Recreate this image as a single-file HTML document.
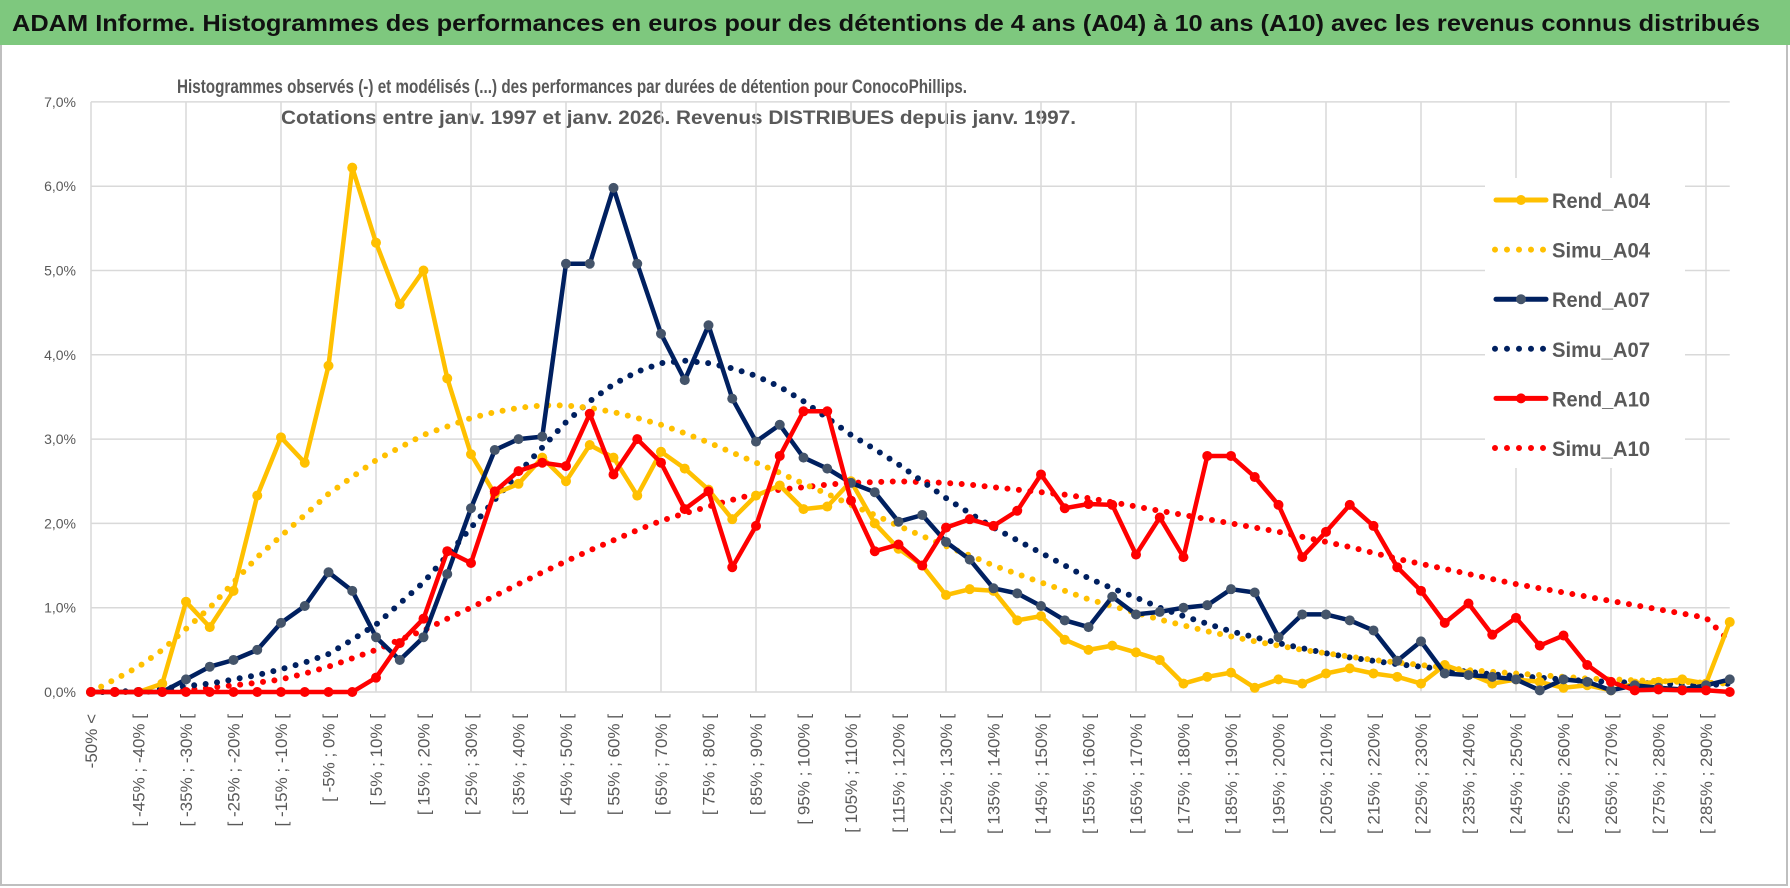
<!DOCTYPE html>
<html><head><meta charset="utf-8"><style>
html,body{margin:0;padding:0;background:#fff;}
svg{display:block;font-family:"Liberation Sans",sans-serif;}
</style></head><body>
<svg id="chart" width="1790" height="888" viewBox="0 0 1790 888">
<rect x="1" y="1" width="1786" height="884" fill="#fff" stroke="#bfbfbf" stroke-width="2"/>
<rect x="0" y="0" width="1790" height="45" fill="#7ec87e"/>
<text x="12" y="31" font-size="23" font-weight="bold" fill="#111" textLength="1748" lengthAdjust="spacingAndGlyphs">ADAM Informe. Histogrammes des performances en euros pour des détentions de 4 ans (A04) à 10 ans (A10) avec les revenus connus distribués</text>
<text x="177" y="93" font-size="19" font-weight="bold" fill="#595959" textLength="790" lengthAdjust="spacingAndGlyphs">Histogrammes observés (-) et modélisés (...) des performances par durées de détention pour ConocoPhillips.</text>
<text x="281" y="124" font-size="19" font-weight="bold" fill="#595959" textLength="795" lengthAdjust="spacingAndGlyphs">Cotations entre janv. 1997 et janv. 2026. Revenus DISTRIBUES depuis janv. 1997.</text>
<g id="grid"></g>
<g id="ylabels"></g>
<g id="xlabels"></g>
<g id="series"></g>
<g id="legend"></g>
</svg>
<script>
const categories = (function(){const a=["-50% <"];for(let i=1;i<70;i++){const lo=-55+5*i;a.push("[ "+lo+"% ; "+(lo+5)+"% [");}return a;})();
const yTicks = ["0,0%","1,0%","2,0%","3,0%","4,0%","5,0%","6,0%","7,0%"];
const rendA04 = [0,0,0,0.1,1.07,0.77,1.2,2.33,3.02,2.72,3.87,6.22,5.33,4.6,5.0,3.72,2.82,2.35,2.47,2.78,2.5,2.93,2.78,2.33,2.85,2.65,2.4,2.05,2.33,2.45,2.17,2.2,2.5,2.0,1.7,1.5,1.15,1.22,1.2,0.85,0.9,0.62,0.5,0.55,0.47,0.38,0.1,0.18,0.23,0.05,0.15,0.1,0.22,0.28,0.22,0.18,0.1,0.32,0.22,0.1,0.15,0.12,0.05,0.08,0.02,0.1,0.12,0.15,0.1,0.83];
const simuA04 = [0,0.15,0.3,0.5,0.75,1.0,1.3,1.6,1.85,2.1,2.35,2.55,2.75,2.9,3.05,3.15,3.25,3.32,3.37,3.4,3.4,3.37,3.32,3.25,3.17,3.07,2.96,2.84,2.72,2.6,2.47,2.35,2.22,2.1,1.97,1.85,1.73,1.62,1.5,1.4,1.3,1.2,1.1,1.02,0.94,0.86,0.79,0.72,0.66,0.6,0.55,0.5,0.46,0.42,0.38,0.35,0.32,0.29,0.26,0.24,0.22,0.2,0.18,0.16,0.15,0.14,0.13,0.12,0.11,0.1];
const rendA07 = [0,0,0,0,0.15,0.3,0.38,0.5,0.82,1.02,1.42,1.2,0.65,0.38,0.65,1.4,2.18,2.87,3.0,3.03,5.08,5.08,5.98,5.08,4.25,3.7,4.35,3.48,2.97,3.17,2.78,2.65,2.48,2.37,2.02,2.1,1.78,1.57,1.23,1.17,1.02,0.85,0.77,1.13,0.92,0.95,1.0,1.03,1.22,1.18,0.65,0.92,0.92,0.85,0.73,0.37,0.6,0.22,0.2,0.18,0.15,0.02,0.15,0.12,0.02,0.08,0.05,0.03,0.08,0.15];
const simuA07 = [0,0,0.02,0.04,0.07,0.1,0.15,0.2,0.27,0.35,0.45,0.62,0.8,1.05,1.3,1.62,1.95,2.28,2.6,2.9,3.2,3.45,3.65,3.8,3.9,3.93,3.9,3.84,3.75,3.62,3.45,3.25,3.05,2.88,2.7,2.5,2.3,2.12,1.95,1.8,1.65,1.5,1.35,1.23,1.12,1.0,0.9,0.81,0.72,0.65,0.58,0.52,0.46,0.41,0.37,0.33,0.3,0.27,0.24,0.21,0.19,0.17,0.15,0.13,0.12,0.11,0.1,0.09,0.08,0.1];
const rendA10 = [0,0,0,0,0,0,0,0,0,0,0,0,0.17,0.58,0.87,1.67,1.53,2.38,2.62,2.72,2.68,3.3,2.58,3.0,2.72,2.17,2.38,1.48,1.97,2.8,3.33,3.33,2.27,1.67,1.75,1.5,1.95,2.05,1.97,2.15,2.58,2.18,2.23,2.22,1.63,2.07,1.6,2.8,2.8,2.55,2.22,1.6,1.9,2.22,1.97,1.48,1.2,0.82,1.05,0.68,0.88,0.55,0.67,0.32,0.12,0.02,0.03,0.02,0.02,0];
const simuA10 = [0,0,0,0.01,0.02,0.05,0.08,0.11,0.15,0.22,0.3,0.4,0.5,0.62,0.73,0.87,1.0,1.14,1.28,1.42,1.55,1.68,1.8,1.92,2.03,2.12,2.2,2.28,2.35,2.4,2.43,2.46,2.48,2.49,2.5,2.49,2.48,2.46,2.43,2.4,2.37,2.34,2.3,2.25,2.2,2.15,2.1,2.05,2.0,1.95,1.9,1.84,1.78,1.72,1.65,1.58,1.52,1.46,1.4,1.34,1.28,1.23,1.18,1.13,1.08,1.03,0.98,0.93,0.88,0.6];

const NS="http://www.w3.org/2000/svg";
const X0=91, DX=23.75, Y0=692, PY=84.3;
const xs=i=>X0+DX*i, ys=v=>Y0-PY*v;
function mk(tag,attrs,parent){const e=document.createElementNS(NS,tag);for(const k in attrs)e.setAttribute(k,attrs[k]);parent.appendChild(e);return e;}
const grid=document.getElementById('grid');
for(let i=0;i<categories.length;i+=4){
  const l=mk('line',{x1:xs(i),x2:xs(i),y1:ys(7),y2:Y0,stroke:'#d9d9d9','stroke-width':1.5},grid);
  
  
}
const yl=document.getElementById('ylabels');
yTicks.forEach((t,k)=>{
  const l=mk('line',{x1:X0,x2:xs(categories.length-1),y1:ys(k),y2:ys(k),stroke:'#d9d9d9','stroke-width':1.5},grid);
  
  
  const tx=mk('text',{x:76,y:ys(k)+5,'font-size':14,fill:'#595959','text-anchor':'end'},yl);
  tx.textContent=t;
  
  
});
const xl=document.getElementById('xlabels');
for(let i=0;i<categories.length;i+=2){
  const x=xs(i)+6, y=714;
  const tx=mk('text',{x:x,y:y,'font-size':17,fill:'#595959','text-anchor':'end',transform:`rotate(-90 ${x} ${y})`},xl);
  tx.textContent=categories[i];
  
  
}
const ser=document.getElementById('series');
function pts(a){return a.map((v,i)=>xs(i).toFixed(1)+','+ys(v).toFixed(1)).join(' ');}
function dotted(a,color,name){
  const p=mk('polyline',{points:pts(a),fill:'none',stroke:color,'stroke-width':6,'stroke-linecap':'round','stroke-dasharray':'0 11.5'},ser);
  
  
}
function solid(a,color,mcolor,name){
  const g=mk('g',{},ser);
  
  
  mk('polyline',{points:pts(a),fill:'none',stroke:color,'stroke-width':4.5,'stroke-linejoin':'round'},g);
  a.forEach((v,i)=>{
    const c=mk('circle',{cx:xs(i),cy:ys(v),r:5,fill:mcolor},g);
    
    
  });
}
dotted(simuA10,'#ff0000','simu-a10-line');
dotted(simuA07,'#002060','simu-a07-line');
dotted(simuA04,'#ffc000','simu-a04-line');
solid(rendA04,'#ffc000','#ffc000','rend-a04-line');
solid(rendA07,'#002060','#44546a','rend-a07-line');
solid(rendA10,'#ff0000','#ff0000','rend-a10-line');
// legend
const lg=document.getElementById('legend');
mk('rect',{x:1485,y:178,width:200,height:290,fill:'#fff'},lg);
const items=[["Rend_A04","#ffc000",false,"#ffc000"],["Simu_A04","#ffc000",true],["Rend_A07","#002060",false,"#44546a"],["Simu_A07","#002060",true],["Rend_A10","#ff0000",false,"#ff0000"],["Simu_A10","#ff0000",true]];
items.forEach((it,k)=>{
  const y=200+49.6*k;
  const g=mk('g',{},lg);
  
  
  if(it[2]){
    mk('line',{x1:1495,x2:1545,y1:y,y2:y,stroke:it[1],'stroke-width':6,'stroke-linecap':'round','stroke-dasharray':'0 12'},g);
  }else{
    mk('line',{x1:1496,x2:1546,y1:y,y2:y,stroke:it[1],'stroke-width':5,'stroke-linecap':'round'},g);
    mk('circle',{cx:1521,cy:y,r:5,fill:it[3]},g);
  }
  const t=mk('text',{x:1552,y:y+8,'font-size':21,'font-weight':'bold',fill:'#595959',textLength:98,lengthAdjust:'spacingAndGlyphs'},g);
  t.textContent=it[0];
});
</script>
</body></html>
